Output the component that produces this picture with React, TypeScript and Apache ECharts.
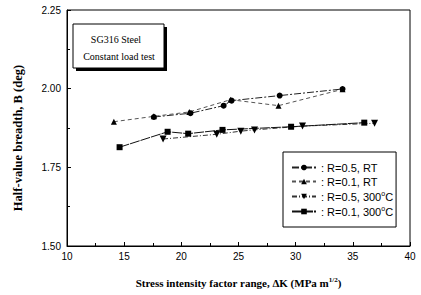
import React, { useEffect, useRef } from "react";
import * as echarts from "echarts";

const dkCircle = [17.6, 20.8, 23.7, 24.4, 28.6, 34.1];
const bCircle = [1.91, 1.922, 1.946, 1.962, 1.978, 1.999];
const dkTri = [14.1, 17.6, 20.7, 24.3, 28.5, 34.1];
const bTri = [1.895, 1.912, 1.926, 1.965, 1.946, 1.998];
const dkDown = [18.4, 23.1, 25.2, 26.4, 30.6, 36.9];
const bDown = [1.84, 1.855, 1.865, 1.869, 1.881, 1.89];
const dkSq = [14.6, 18.8, 20.6, 23.6, 29.6, 36.0];
const bSq = [1.814, 1.863, 1.857, 1.869, 1.879, 1.892];

const seriesNames = ["R=0.5, RT", "R=0.1, RT", "R=0.5, 300°C", "R=0.1, 300°C"];
const legendLabels: Record<string, string> = {
  "R=0.5, RT": ": R=0.5, RT",
  "R=0.1, RT": ": R=0.1, RT",
  "R=0.5, 300°C": ": R=0.5, 300{sup|o}C",
  "R=0.1, 300°C": ": R=0.1, 300{sup|o}C",
};

const zip = (xs: number[], ys: number[]) => xs.map((x, i) => [x, ys[i]]);

export default function App() {
  const ref = useRef<HTMLDivElement>(null);
  useEffect(() => {
    const chart = echarts.init(ref.current!, null, { renderer: "svg" });
    const serif = "Liberation Serif";
    const sans = "Liberation Sans";
    chart.setOption({
      animation: false,
      backgroundColor: "#fff",
      grid: { left: 67, right: 11, top: 10, bottom: 49, show: true, borderColor: "#000", borderWidth: 1 },
      xAxis: {
        type: "value",
        min: 10,
        max: 40,
        interval: 5,
        axisLine: { lineStyle: { color: "#000", width: 1 } },
        axisTick: { inside: true, length: 4, lineStyle: { color: "#000" } },
        minorTick: { show: true, splitNumber: 2, length: 3, lineStyle: { color: "#000" } },
        splitLine: { show: false },
        axisLabel: { color: "#000", fontFamily: sans, fontSize: 10, margin: 5 },
        name: "Stress intensity factor range, ΔK (MPa m{sup|1/2})",
        nameLocation: "middle",
        nameGap: 30,
        nameTextStyle: {
          color: "#000",
          fontFamily: serif,
          fontWeight: "bold",
          fontSize: 11,
          rich: { sup: { fontSize: 7, fontFamily: serif, fontWeight: "bold", verticalAlign: "top", padding: [0, 0, 6, 0] } },
        },
      },
      yAxis: {
        type: "value",
        min: 1.5,
        max: 2.25,
        interval: 0.25,
        axisLine: { show: true, lineStyle: { color: "#000", width: 1 } },
        axisTick: { show: true, inside: true, length: 4, lineStyle: { color: "#000" } },
        minorTick: { show: true, splitNumber: 2, length: 3, lineStyle: { color: "#000" } },
        splitLine: { show: false },
        axisLabel: { color: "#000", fontFamily: sans, fontSize: 10, margin: 6, formatter: (v: number) => v.toFixed(2) },
      },
      legend: {
        left: 283,
        top: 152,
        orient: "vertical",
        data: seriesNames,
        itemWidth: 24,
        itemHeight: 7,
        itemGap: 3,
        padding: [10, 3, 10, 8],
        borderColor: "#000",
        borderWidth: 1,
        backgroundColor: "#fff",
        formatter: (n: string) => legendLabels[n],
        textStyle: {
          color: "#000",
          fontFamily: sans,
          fontSize: 11,
          rich: { sup: { fontSize: 7, fontFamily: sans, verticalAlign: "top", padding: [0, 0, 6, 0] } },
        },
      },
      graphic: [
        { type: "rect", shape: { x: 76, y: 27, width: 91, height: 44 }, style: { fill: "#000" } },
        { type: "rect", shape: { x: 73, y: 24, width: 91, height: 44 }, style: { fill: "#fff", stroke: "#000", lineWidth: 1 } },
        { type: "text", x: 116, y: 39, style: { text: "SG316 Steel", font: "10px 'Liberation Serif'", fill: "#000", align: "center", verticalAlign: "middle" } },
        { type: "text", x: 119, y: 56, style: { text: "Constant load test", font: "10px 'Liberation Serif'", fill: "#000", align: "center", verticalAlign: "middle" } },
        {
          type: "text",
          x: 18,
          y: 138,
          rotation: Math.PI / 2,
          style: { text: "Half-value breadth, B (deg)", font: "bold 12.5px 'Liberation Serif'", fill: "#000", align: "center", verticalAlign: "middle" },
        },
      ],
      series: [
        {
          name: seriesNames[0],
          type: "line",
          data: zip(dkCircle, bCircle),
          symbol: "circle",
          symbolSize: 6,
          itemStyle: { color: "#000" },
          lineStyle: { color: "#222", width: 1, type: [7, 2, 2, 2] },
        },
        {
          name: seriesNames[1],
          type: "line",
          data: zip(dkTri, bTri),
          symbol: "triangle",
          symbolSize: 6,
          itemStyle: { color: "#000" },
          lineStyle: { color: "#555", width: 1, type: [4, 3] },
        },
        {
          name: seriesNames[2],
          type: "line",
          data: zip(dkDown, bDown),
          symbol: "triangle",
          symbolRotate: 180,
          symbolSize: 7,
          itemStyle: { color: "#000" },
          lineStyle: { color: "#333", width: 1, type: [5, 2, 1, 2] },
        },
        {
          name: seriesNames[3],
          type: "line",
          data: zip(dkSq, bSq),
          symbol: "rect",
          symbolSize: 6,
          itemStyle: { color: "#000" },
          lineStyle: { color: "#111", width: 1, type: [10, 1] },
        },
      ],
    });
    return () => chart.dispose();
  }, []);
  return <div ref={ref} style={{ width: 421, height: 295, position: "absolute", left: 0, top: 0 }} />;
}
